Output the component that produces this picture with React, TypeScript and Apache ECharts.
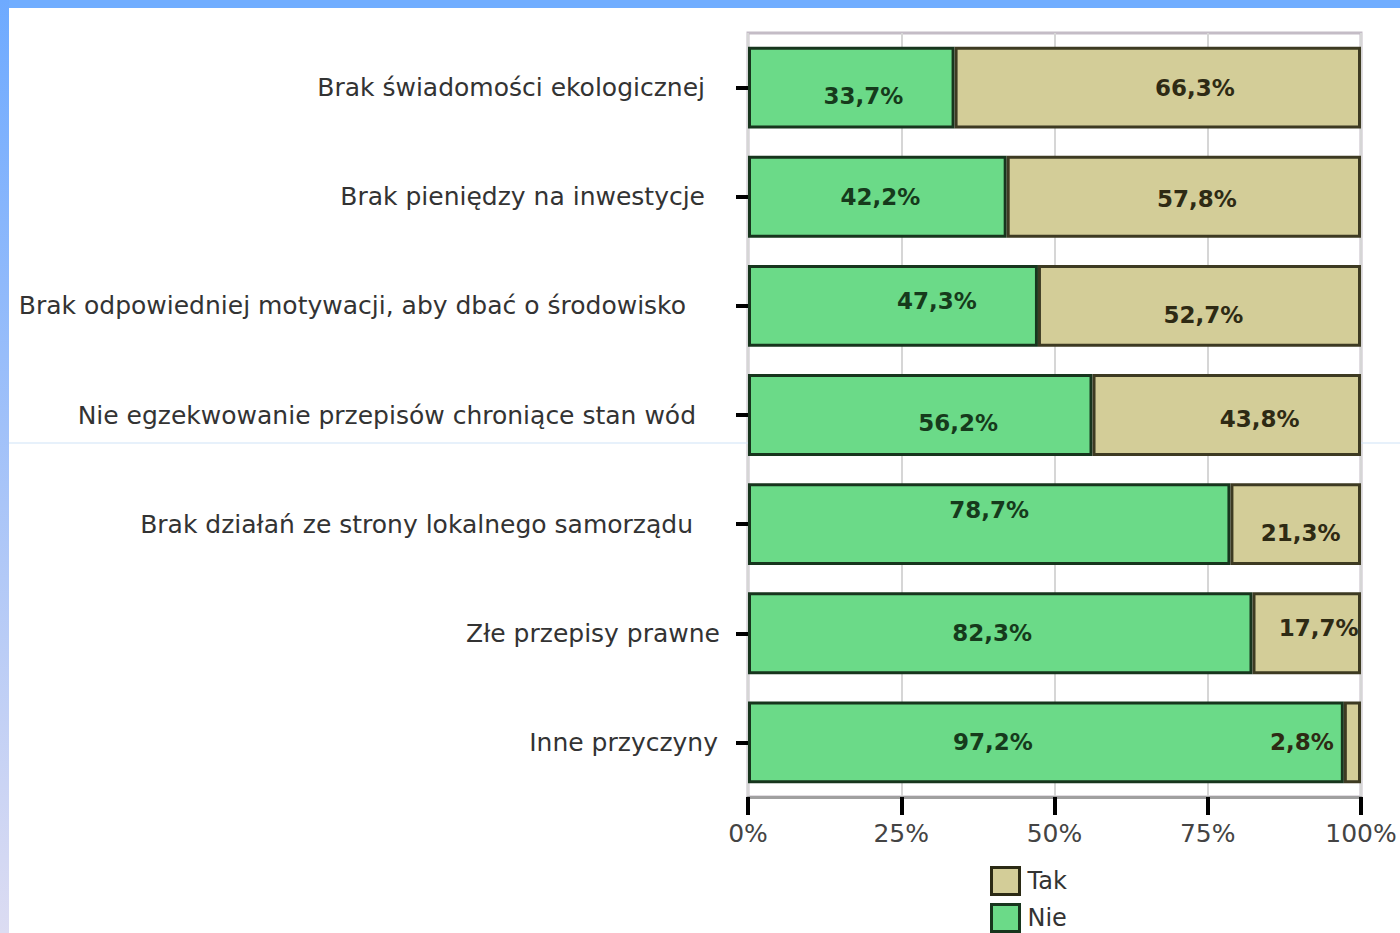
import React, { useEffect, useRef } from "react";
import * as echarts from "echarts";

const categories = [
  "Brak świadomości ekologicznej",
  "Brak pieniędzy na inwestycje",
  "Brak odpowiedniej motywacji, aby dbać o środowisko",
  "Nie egzekwowanie przepisów chroniące stan wód",
  "Brak działań ze strony lokalnego samorządu",
  "Złe przepisy prawne",
  "Inne przyczyny",
];
const nieValues = [33.7, 42.2, 47.3, 56.2, 78.7, 82.3, 97.2];
const takValues = [66.3, 57.8, 52.7, 43.8, 21.3, 17.7, 2.8];
const xTicks = [0, 25, 50, 75, 100];

// label nudges (style only)
const catLabelPad = [15, 15, 34, 24, 27, 0, 2];
const nieLabelOffset = [[12, 8], [3, 0], [44, -5], [38, 8], [0, -14], [-8, 0], [-53, 0]];
const takLabelOffset = [[37, 0], [13, 2], [4, 9], [33, 4], [5, 9], [12, -5], [0, 0]];

const fmt = (v: number) => v.toFixed(1).replace(".", ",") + "%";

export default function App() {
  const ref = useRef<HTMLDivElement>(null);
  useEffect(() => {
    if (!ref.current) return;
    const chart = echarts.init(ref.current, null, { renderer: "svg" });
    const font = "DejaVu Sans";
    const legendBase = {
      orient: "vertical",
      left: 990,
      padding: 0,
      icon: "rect",
      itemWidth: 28,
      itemHeight: 27,
      textStyle: { fontSize: 24, color: "#333", fontFamily: font, padding: [0, 0, 0, 3] },
    };
    chart.setOption({
      animation: false,
      backgroundColor: "#ffffff",
      textStyle: { fontFamily: font },
      graphic: [
        { type: "rect", shape: { x: 0, y: 0, width: 1400, height: 8 }, style: { fill: "#70adff" }, z: 100 },
        {
          type: "rect",
          shape: { x: 0, y: 0, width: 9, height: 933 },
          style: {
            fill: new echarts.graphic.LinearGradient(0, 0, 0, 1, [
              { offset: 0, color: "#6eaaff" },
              { offset: 1, color: "#dcdcf2" },
            ]),
          },
          z: 100,
        },
        { type: "line", shape: { x1: 9, y1: 443, x2: 1400, y2: 443 }, style: { stroke: "#cfe3f7", lineWidth: 1 }, z: 1 },
      ],
      legend: [
        { ...legendBase, data: ["Tak"], top: 866, itemStyle: { borderColor: "#2b2a14", borderWidth: 3 } },
        { ...legendBase, data: ["Nie"], top: 903, itemStyle: { borderColor: "#17351d", borderWidth: 3 } },
      ],
      grid: {
        left: 748,
        right: 39,
        top: 33,
        bottom: 136,
        show: true,
        borderColor: "#c4bcc6",
        borderWidth: 3,
      },
      xAxis: {
        type: "value",
        min: 0,
        max: 100,
        interval: 25,
        axisLine: { show: true, lineStyle: { color: "#a0a0a0", width: 3 } },
        axisTick: { show: true, length: 18, lineStyle: { color: "#000", width: 4 } },
        splitLine: { show: true, lineStyle: { color: "#d6d6d6", width: 2 } },
        axisLabel: {
          formatter: (v: number) => (xTicks.includes(v) ? v + "%" : ""),
          fontSize: 25,
          color: "#444",
          margin: 24,
          fontFamily: font,
        },
      },
      yAxis: {
        type: "category",
        data: categories.map((c, i) => ({
          value: c,
          textStyle: { padding: [0, catLabelPad[i], 0, 0] },
        })),
        inverse: true,
        axisLine: { show: false },
        axisTick: { show: true, length: 12, alignWithLabel: true, lineStyle: { color: "#000", width: 4 } },
        axisLabel: { fontSize: 25, color: "#333", margin: 28, fontFamily: font },
      },
      series: [
        {
          name: "Nie",
          type: "bar",
          stack: "total",
          barCategoryGap: "25%",
          data: nieValues.map((v, i) => ({ value: v, label: { offset: nieLabelOffset[i] } })),
          itemStyle: { color: "#6bda88", borderColor: "#17351d", borderWidth: 3 },
          label: {
            show: true,
            position: "inside",
            formatter: (p: any) => fmt(p.value),
            fontSize: 23,
            fontWeight: "bold",
            color: "#163a1c",
            fontFamily: font,
          },
        },
        {
          name: "Tak",
          type: "bar",
          stack: "total",
          data: takValues.map((v, i) =>
            i === takValues.length - 1
              ? { value: v, label: { position: "left", distance: 10 } }
              : { value: v, label: { offset: takLabelOffset[i] } }
          ),
          itemStyle: { color: "#d3cd98", borderColor: "#3d3a22", borderWidth: 3 },
          label: {
            show: true,
            position: "inside",
            formatter: (p: any) => fmt(p.value),
            fontSize: 23,
            fontWeight: "bold",
            color: "#2e2a14",
            fontFamily: font,
          },
        },
      ],
    });
    return () => chart.dispose();
  }, []);
  return (
    <div
      ref={ref}
      style={{ position: "fixed", left: 0, top: 0, width: 1400, height: 933 }}
    />
  );
}
